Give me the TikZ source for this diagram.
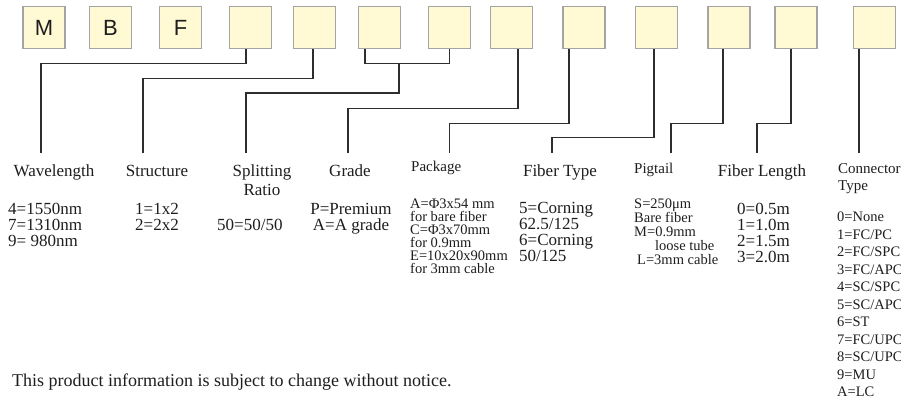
\documentclass[tikz,border=0pt]{standalone}
\usepackage{fontspec}
\setmainfont{Liberation Serif}
\newfontfamily\boxfont{Liberation Sans}
\definecolor{cellfill}{HTML}{FFF9D4}
\definecolor{cellline}{HTML}{A4A4A4}
\definecolor{wirecol}{HTML}{2E2E2E}
\definecolor{txt}{HTML}{1E1E1E}
\begin{document}
\begin{tikzpicture}[x=1pt,y=-1pt,
  cell/.style={draw=cellline, line width=1.4pt, fill=cellfill, minimum width=42pt, minimum height=42pt, inner sep=0pt, text=txt, font=\boxfont\fontsize{22}{22}\selectfont},
  wire/.style={draw=wirecol, line width=1.3pt},
  head/.style={anchor=base, inner sep=0pt, text=txt, align=center, font=\fontsize{17}{19}\selectfont},
  shead/.style={anchor=base west, inner sep=0pt, text=txt, align=left, font=\fontsize{15}{17}\selectfont},
  data/.style={anchor=north west, inner sep=0pt, text=txt, align=left, font=\fontsize{17}{16}\selectfont},
  sdata/.style={anchor=north west, inner sep=0pt, text=txt, align=left, font=\fontsize{14.5}{13}\selectfont}]
\useasboundingbox (0,0) rectangle (901,402);
\fill[white] (0,0) rectangle (901,402);
% code boxes
\node[cell] (m)   at (44,27.5)  {M};
\node[cell] (b)   at (110.5,27.5) {B};
\node[cell] (f)   at (180.5,27.5) {F};
\node[cell] (b4)  at (250.5,27.5) {};
\node[cell] (b5)  at (314.5,27.5) {};
\node[cell] (b6)  at (379.5,27.5) {};
\node[cell] (b7)  at (449.5,27.5) {};
\node[cell] (b8)  at (511.5,27.5) {};
\node[cell] (b9)  at (584,27.5)   {};
\node[cell] (b10) at (656.5,27.5) {};
\node[cell] (b11) at (729,27.5)   {};
\node[cell] (b12) at (796,27.5)   {};
\node[cell] (b13) at (874.5,27.5) {};
% connector ends
\coordinate (e1) at (41,153);
\coordinate (e2) at (143,153);
\coordinate (e3) at (246,153);
\coordinate (e4) at (348,153);
\coordinate (e5) at (449.5,153);
\coordinate (e6) at (552,153);
\coordinate (e7) at (671,153);
\coordinate (e8) at (757,153);
\coordinate (e9) at ([xshift=-15.5]b13.south |- 0,153);
\coordinate (j67) at (399,63);
% connectors
\draw[wire] ([xshift=-4.5]b4.south) -- ++(0,14.5) -| (e1);
\draw[wire] ([xshift=-1.5]b5.south) -- ++(0,29.5) -| (e2);
\draw[wire] ([xshift=-14.5]b6.south) -- ++(0,14.5) -| (b7.south);
\draw[wire] (j67) -- ++(0,30) -| (e3);
\draw[wire] ([xshift=6.5]b8.south) -- ++(0,59.5) -| (e4);
\draw[wire] ([xshift=-15]b9.south) -- ++(0,74.5) -| (e5);
\draw[wire] ([xshift=-2.5]b10.south) -- ++(0,88.5) -| (e6);
\draw[wire] ([xshift=-6]b11.south) -- ++(0,74.5) -| (e7);
\draw[wire] ([xshift=-5]b12.south) -- ++(0,74.5) -| (e8);
\draw[wire] ([xshift=-15.5]b13.south) -- (e9);
% headings
\node[head] (hwl) at (54,176) {Wavelength};
\node[head] (hst) at (157,176) {Structure};
\node[head] (hsr) at (262,195) {Splitting\\Ratio};
\node[head] (hgr) at (350,176) {Grade};
\node[shead] (hpk) at (411,171) {Package};
\node[head] (hft) at (560,176) {Fiber Type};
\node[shead] (hpt) at (634,173) {Pigtail};
\node[head] (hfl) at (762,176) {Fiber Length};
\node[shead] (hct) at (838,190) {Connector\\Type};
% data
\node[data] (dwl) at (8,203) {4=1550nm\\7=1310nm\\9= 980nm};
\node[data] (dst) at (135,203) {1=1x2\\2=2x2};
\node[data] (dsr) at (217,219) {50=50/50};
\node[data, align=center, anchor=north] (dgr) at (351,203) {P=Premium\\A=A grade};
\node[sdata] (dpk) at (410,199) {A=Φ3x54 mm\\for bare fiber\\C=Φ3x70mm\\for 0.9mm\\E=10x20x90mm\\for 3mm cable};
\node[data, font=\fontsize{17}{16}\selectfont] (dft) at (519,202) {5=Corning\\62.5/125\\6=Corning\\50/125};
\node[sdata, font=\fontsize{14.5}{13.9}\selectfont] (dpt) at (634,199) {S=250μm\\Bare fiber\\M=0.9mm\\\hspace*{21pt}loose tube\\\hspace*{3pt}L=3mm cable};
\node[data, font=\fontsize{17}{16}\selectfont] (dfl) at (737,203) {0=0.5m\\1=1.0m\\2=1.5m\\3=2.0m};
\node[sdata, font=\fontsize{14.5}{17.5}\selectfont] (dct) at (837,212) {0=None\\1=FC/PC\\2=FC/SPC\\3=FC/APC\\4=SC/SPC\\5=SC/APC\\6=ST\\7=FC/UPC\\8=SC/UPC\\9=MU\\A=LC};
% footer
\node[anchor=base west, inner sep=0pt, text=txt, font=\fontsize{18}{20}\selectfont] (note) at (12,386) {This product information is subject to change without notice.};
\end{tikzpicture}
\end{document}
